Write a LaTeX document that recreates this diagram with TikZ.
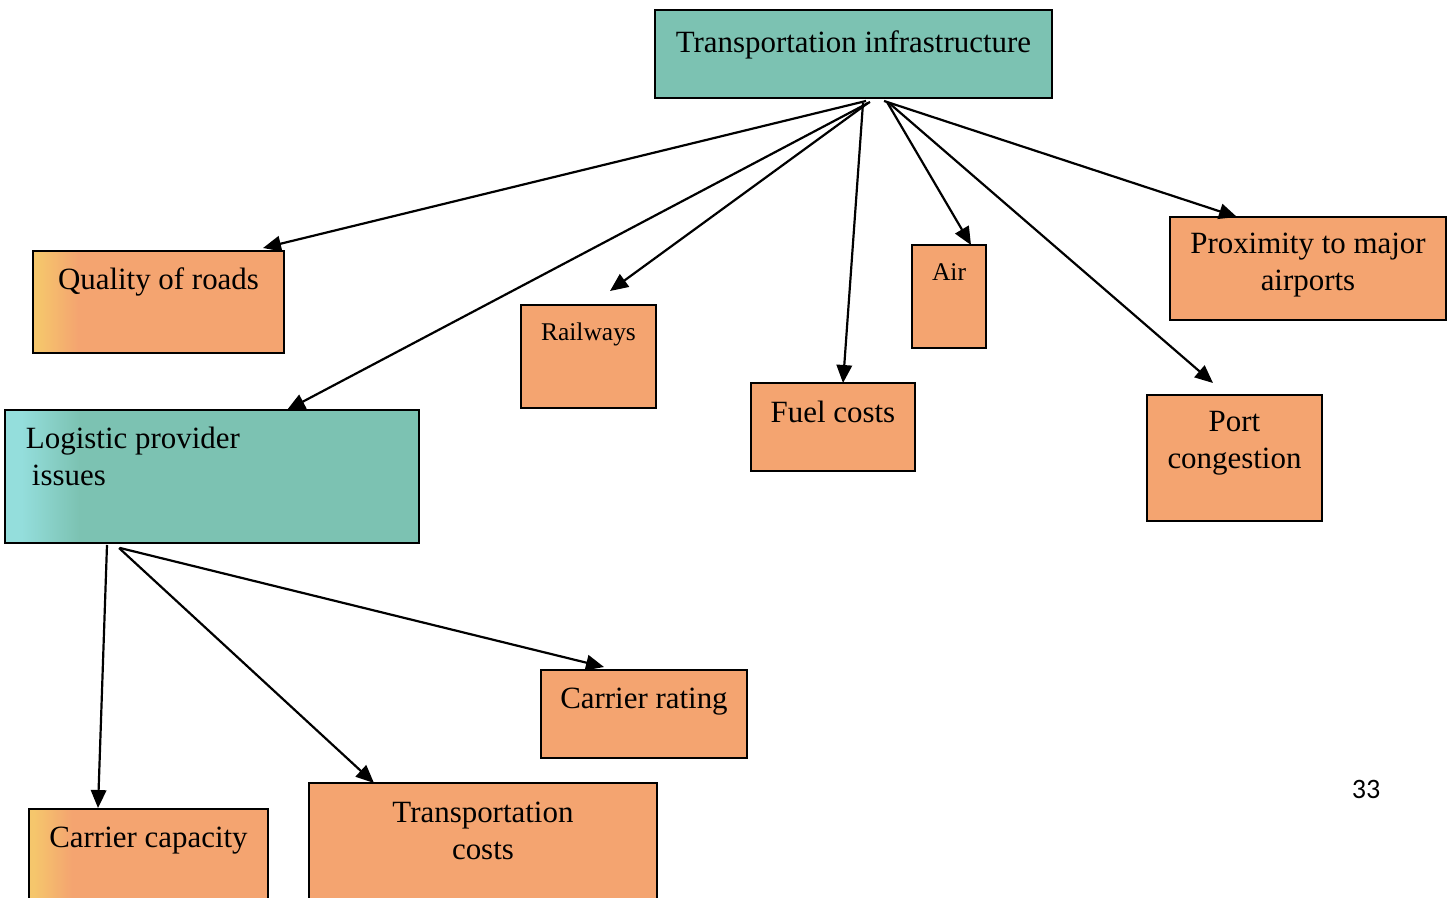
\documentclass[tikz,border=0pt]{standalone}
\usepackage{fontspec}
\setmainfont{Liberation Serif}
\newfontfamily\pagenumfont{Carlito}
\usetikzlibrary{arrows.meta,calc}

\definecolor{boxorange}{RGB}{244,164,112}
\definecolor{boxyellow}{RGB}{245,198,108}
\definecolor{boxteal}{RGB}{124,194,178}
\definecolor{boxcyan}{RGB}{148,222,220}

% boxes with a lighter strip along their left edge
\pgfdeclarehorizontalshading{orangeedge}{100bp}{color(0bp)=(boxyellow); color(25bp)=(boxyellow); color(26bp)=(boxyellow); color(34bp)=(boxorange); color(100bp)=(boxorange)}
\pgfdeclarehorizontalshading{tealedge}{100bp}{color(0bp)=(boxcyan); color(25bp)=(boxcyan); color(27bp)=(boxcyan); color(34bp)=(boxteal); color(100bp)=(boxteal)}

% text block of a given width and height, first line set below the top edge
\newcommand{\cellc}[4]{\parbox[c][#2][t]{#1}{\vspace*{#3}\centering #4\par}}
\newcommand{\celll}[4]{\parbox[c][#2][t]{#1}{\vspace*{#3}\raggedright #4\par}}

\tikzset{
  cellbox/.style={draw=black, line width=1.2pt, inner sep=0pt, outer sep=0pt,
    anchor=north west, font=\fontsize{17.6}{20.8}\selectfont},
  smallcell/.style={cellbox, font=\fontsize{14.5}{17.4}\selectfont},
  orangecell/.style={fill=boxorange},
  tealcell/.style={fill=boxteal},
  orangeedgecell/.style={shade, shading=orangeedge},
  tealedgecell/.style={shade, shading=tealedge},
  link/.style={line width=1.25pt, -{Triangle[length=0.36cm,width=0.31cm]}},
}

\begin{document}
\begin{tikzpicture}[x=0.02cm, y=-0.02cm]
  \useasboundingbox (0,0) rectangle (1456,897);
  \clip (0,0) rectangle (1456,897);

  % top level
  \node[cellbox, tealcell] (ti) at (655,10)
    {\cellc{7.94cm}{1.76cm}{0.41cm}{Transportation infrastructure}};

  % transportation infrastructure factors
  \node[cellbox, orangeedgecell] (qr) at (33,251)
    {\cellc{5.02cm}{2.04cm}{0.33cm}{Quality of roads}};
  \node[smallcell, orangecell] (rw) at (521,305)
    {\cellc{2.70cm}{2.06cm}{0.35cm}{Railways}};
  \node[cellbox, orangecell] (fc) at (751,383)
    {\cellc{3.28cm}{1.76cm}{0.37cm}{Fuel costs}};
  \node[smallcell, orangecell] (air) at (912,245)
    {\cellc{1.48cm}{2.06cm}{0.37cm}{Air}};
  \node[cellbox, orangecell] (pma) at (1170,217)
    {\cellc{5.52cm}{2.06cm}{0.33cm}{Proximity to major\\airports}};
  \node[cellbox, orangecell] (pc) at (1147,395)
    {\cellc{3.50cm}{2.52cm}{0.33cm}{Port\\congestion}};

  % logistic provider branch
  \node[cellbox, tealedgecell] (lp) at (5,410)
    {\celll{8.28cm}{2.66cm}{0.35cm}{\hspace*{0.42cm}Logistic provider\\\hspace*{0.54cm}issues}};
  \node[cellbox, orangecell] (cr) at (541,670)
    {\cellc{4.12cm}{1.76cm}{0.37cm}{Carrier rating}};
  \node[cellbox, orangeedgecell] (cc) at (29,809)
    {\cellc{4.78cm}{1.80cm}{0.37cm}{Carrier capacity}};
  \node[cellbox, orangecell] (tc) at (309,783)
    {\cellc{6.96cm}{2.40cm}{0.39cm}{Transportation\\costs}};

  % page number
  \node[font=\pagenumfont\fontsize{16}{19}\selectfont] (pg) at (1366,789) {33};

  % connector origins along the lower edges
  \coordinate (tiq) at ($(ti.south west)+(211,3)$);
  \coordinate (til) at ($(ti.south west)+(215,4)$);
  \coordinate (tir) at ($(ti.south west)+(213,5)$);
  \coordinate (tif) at ($(ti.south west)+(208,5)$);
  \coordinate (tia) at ($(ti.south west)+(232,4)$);
  \coordinate (tip) at ($(ti.south west)+(229,3)$);
  \coordinate (tig) at ($(ti.south west)+(234,5)$);
  \coordinate (lpa) at ($(lp.south west)+(102,2)$);
  \coordinate (lpb) at ($(lp.south west)+(114,5)$);
  \coordinate (lpc) at ($(lp.south west)+(115,5)$);

  % free arrow ends short of their boxes
  \coordinate (rwend) at (610,291);
  \coordinate (pcend) at (1213,383);

  \draw[link] (tiq) -- ($(qr.north west)+(230,-3)$);
  \draw[link] (til) -- ($(lp.north west)+(282,0)$);
  \draw[link] (tir) -- (rwend);
  \draw[link] (tif) -- ($(fc.north west)+(92,0)$);
  \draw[link] (tia) -- ($(air.north west)+(59,0)$);
  \draw[link] (tip) -- ($(pma.north west)+(67,0)$);
  \draw[link] (tig) -- (pcend);

  \draw[link] (lpa) -- ($(cc.north west)+(69,-1)$);
  \draw[link] (lpb) -- ($(tc.north west)+(65,0)$);
  \draw[link] (lpc) -- ($(cr.north west)+(63,-3)$);
\end{tikzpicture}
\end{document}
